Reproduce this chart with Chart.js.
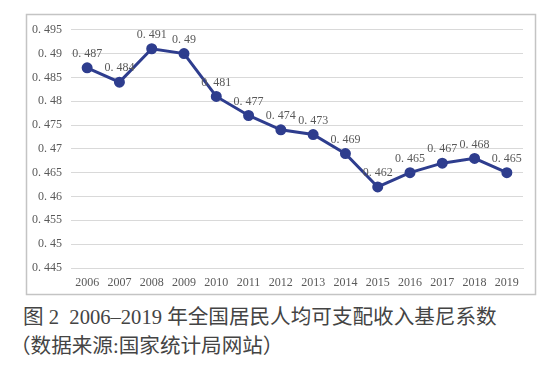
<!DOCTYPE html>
<html>
<head>
<meta charset="utf-8">
<script src="https://cdn.jsdelivr.net/npm/chart.js@4.4.0/dist/chart.umd.min.js"></script>
<style>
  html, body { margin: 0; padding: 0; background: #fff; width: 550px; height: 366px; overflow: hidden; }
  #wrap { position: absolute; left: 0; top: 0; width: 550px; height: 300px; }
  .cap { position: absolute; font-family: "Liberation Serif", "Noto Sans CJK SC", serif; font-size: 20.6px; color: #444; white-space: nowrap; line-height: 29px; }
</style>
</head>
<body>
<div id="wrap"><canvas id="c" width="550" height="300"></canvas></div>
<div class="cap" style="top:303px;left:23px;">图 2&nbsp; 2006–2019 年全国居民人均可支配收入基尼系数</div>
<div class="cap" style="top:332px;left:10px;">（数据来源:国家统计局网站）</div>
<script>
const years = ["2006","2007","2008","2009","2010","2011","2012","2013","2014","2015","2016","2017","2018","2019"];
const gini = [0.487,0.484,0.491,0.490,0.481,0.477,0.474,0.473,0.469,0.462,0.465,0.467,0.468,0.465];
const yMin = 0.445, yMax = 0.495, yStep = 0.005;

function fmt(v) {
  const s = String(Math.round(v * 1000) / 1000);
  return s.replace("0.", "0. ");
}

const frame = {
  id: 'frame',
  afterDraw(chart) {
    const ctx = chart.ctx;
    ctx.save();
    ctx.strokeStyle = '#c4c4c4';
    ctx.lineWidth = 1.5;
    ctx.strokeRect(26.5, 14.5, 509, 280);
    ctx.restore();
  }
};

const labels = {
  id: 'labels',
  afterDatasetsDraw(chart) {
    const ctx = chart.ctx;
    const meta = chart.getDatasetMeta(0);
    ctx.save();
    ctx.font = '12px "Liberation Serif", serif';
    ctx.fillStyle = '#595959';
    ctx.textAlign = 'center';
    ctx.textBaseline = 'middle';
    meta.data.forEach((pt, i) => {
      ctx.fillText(fmt(chart.data.datasets[0].data[i]), pt.x, pt.y - 14);
    });
    ctx.restore();
  }
};

new Chart(document.getElementById('c'), {
  type: 'line',
  data: {
    labels: years,
    datasets: [{
      data: gini,
      borderColor: '#2e3d8e',
      backgroundColor: '#2e3d8e',
      borderWidth: 3,
      pointRadius: 4,
      pointHoverRadius: 4,
      tension: 0,
      fill: false
    }]
  },
  options: {
    responsive: false,
    animation: false,
    layout: { padding: { left: 0, right: 27, top: 29.7, bottom: 0 } },
    plugins: { legend: { display: false }, tooltip: { enabled: false } },
    scales: {
      x: {
        offset: true,
        grid: { display: false, drawTicks: false },
        border: { display: true, color: '#d9d9d9', width: 1 },
        ticks: { color: '#595959', font: { family: '"Liberation Serif", serif', size: 12 }, padding: 8, maxRotation: 0, autoSkip: false },
        afterFit(s) { s.height = 32; }
      },
      y: {
        min: yMin, max: yMax,
        grid: { color: '#d9d9d9', lineWidth: 1, drawTicks: false },
        border: { display: false },
        ticks: { stepSize: yStep, color: '#595959', font: { family: '"Liberation Serif", serif', size: 12 }, padding: 9, callback: (v) => fmt(v) },
        afterFit(s) { s.width = 71; }
      }
    }
  },
  plugins: [frame, labels]
});
</script>
</body>
</html>
